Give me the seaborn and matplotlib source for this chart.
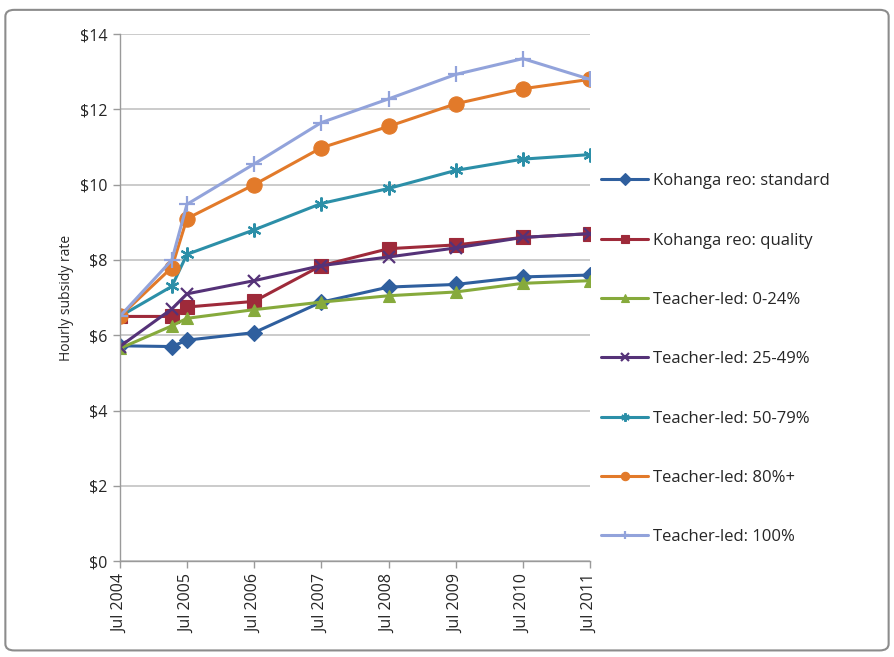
import matplotlib
matplotlib.use('Agg')
import matplotlib.pyplot as plt
from matplotlib.patches import FancyBboxPatch
import seaborn as sns
import pandas as pd

# data
dates = ['2004-07-01', '2005-04-10', '2005-07-01', '2006-07-01', '2007-07-01',
         '2008-07-01', '2009-07-01', '2010-07-01', '2011-07-01']

kohanga_standard = [5.72, 5.70, 5.87, 6.07, 6.88, 7.28, 7.35, 7.55, 7.60]
kohanga_quality = [6.50, 6.50, 6.75, 6.90, 7.85, 8.30, 8.40, 8.60, 8.70]
teacher_0_24 = [5.65, 6.25, 6.45, 6.68, 6.88, 7.05, 7.15, 7.38, 7.45]
teacher_25_49 = [5.70, 6.70, 7.10, 7.45, 7.85, 8.08, 8.32, 8.60, 8.70]
teacher_50_79 = [6.50, 7.30, 8.15, 8.80, 9.50, 9.90, 10.38, 10.68, 10.80]
teacher_80 = [6.50, 7.80, 9.10, 10.00, 10.98, 11.55, 12.15, 12.55, 12.80]
teacher_100 = [6.50, 8.00, 9.48, 10.55, 11.65, 12.28, 12.93, 13.35, 12.80]

series_names = ['Kohanga reo: standard', 'Kohanga reo: quality', 'Teacher-led: 0-24%',
                'Teacher-led: 25-49%', 'Teacher-led: 50-79%', 'Teacher-led: 80%+',
                'Teacher-led: 100%']
series_values = [kohanga_standard, kohanga_quality, teacher_0_24, teacher_25_49,
                 teacher_50_79, teacher_80, teacher_100]

tick_years = list(range(2004, 2012))

colors = ['#2F5F9E', '#9E2A3A', '#86AA3C', '#553278', '#2C8FA8', '#E27A2A', '#92A3DB']
markers = ['D', 's', '^', 'x', (6, 2, 0), 'o', '+']
msizes = [8, 10, 9, 9, 10, 11, 11]

sns.set_theme(style='white')
plt.rcParams['font.family'] = ['Open Sans', 'DejaVu Sans']

fig = plt.figure(figsize=(8.94, 6.57), dpi=100)
ax = fig.add_axes([0.134, 0.146, 0.526, 0.802])

x = pd.to_datetime(dates)
for name, vals, c, m, s in zip(series_names, series_values, colors, markers, msizes):
    df = pd.DataFrame({'date': x, 'rate': vals})
    sns.lineplot(data=df, x='date', y='rate', ax=ax, color=c, marker=m,
                 markersize=s, linewidth=2.2, label=name,
                 markeredgecolor=c, markeredgewidth=1.6 if m in ('x', '+', (6, 2, 0)) else 0.8)

ax.set_ylim(0, 14)
ax.set_yticks(range(0, 15, 2))
ax.set_yticklabels([f'${v}' for v in range(0, 15, 2)], fontsize=11.5)
ax.set_xlim(pd.Timestamp('2004-07-01'), pd.Timestamp('2011-07-01'))
ticks = [pd.Timestamp(f'{yr}-07-01') for yr in tick_years]
ax.set_xticks(ticks)
ax.set_xticklabels([f'Jul {yr}' for yr in tick_years], rotation=90, fontsize=11.5)
ax.set_xlabel('')
ax.set_ylabel('Hourly subsidy rate', fontsize=10)

ax.grid(axis='y', color='#BDBDBD', linewidth=1.1)
ax.grid(axis='x', visible=False)
for side in ['top', 'right']:
    ax.spines[side].set_visible(False)
for side in ['left', 'bottom']:
    ax.spines[side].set_color('#9A9A9A')
    ax.spines[side].set_linewidth(1.0)
ax.tick_params(axis='both', which='major', direction='out', length=5, width=1,
               color='#9A9A9A', left=True, bottom=True, pad=4)

leg = ax.legend(loc='center left', bbox_to_anchor=(1.01, 0.383), frameon=False,
                fontsize=12, labelspacing=2.6, handlelength=2.8, handletextpad=0.3,
                borderaxespad=0)
for h in leg.legend_handles:
    h.set_markersize(6)

border = FancyBboxPatch((0.006, 0.01), 0.988, 0.975, boxstyle='round,pad=0,rounding_size=0.01',
                        transform=fig.transFigure, fill=False, edgecolor='#8C8C8C',
                        linewidth=1.5)
fig.patches.append(border)

fig.savefig('out.png', dpi=100)
